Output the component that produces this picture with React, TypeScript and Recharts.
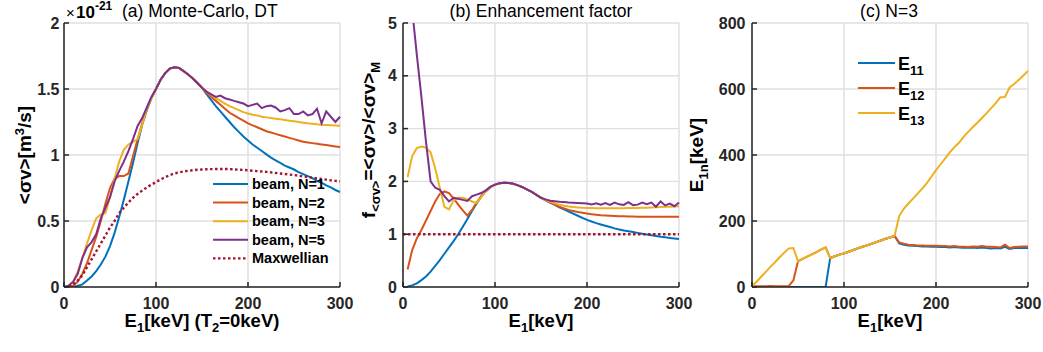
import React from "react";
import { LineChart, Line, XAxis, YAxis, CartesianGrid, Legend } from "recharts";

// beam energy grid E1 [keV], shared by all three panels
const energy = [
  0, 5, 10, 15, 20, 25, 30, 35, 40, 45, 50, 55, 60, 65, 70, 75, 80, 85, 90, 95,
  100, 105, 110, 115, 120, 125, 130, 135, 140, 145, 150,
  155, 160, 165, 170, 175, 180, 185, 190, 195, 200, 205, 210, 215, 220, 225, 230,
  235, 240, 245, 250, 255, 260, 265, 270, 275, 280, 285, 290, 295, 300,
];

// (a) <sigma v> in units of 1e-21 m^3/s
const sigmaN1 = [
  0, 0, 0, 0.01, 0.02, 0.05, 0.08, 0.12, 0.17, 0.23, 0.31, 0.41, 0.53, 0.66, 0.8, 0.94, 1.09, 1.23, 1.34, 1.43,
  1.5, 1.57, 1.62, 1.655, 1.665, 1.66, 1.635, 1.61, 1.58, 1.545, 1.51,
  1.46, 1.415, 1.37, 1.33, 1.29, 1.25, 1.21, 1.175, 1.14, 1.11, 1.08, 1.055, 1.03, 1.005, 0.98,
  0.96, 0.94, 0.92, 0.905, 0.89, 0.87, 0.855, 0.84, 0.825, 0.805, 0.79, 0.77, 0.755, 0.735, 0.72,
];
const sigmaN2 = [
  0, 0, 0.01, 0.04, 0.1, 0.18, 0.28, 0.38, 0.5, 0.63, 0.75, 0.82, 0.84, 0.84, 0.86, 0.99, 1.12, 1.24, 1.35, 1.43,
  1.5, 1.57, 1.62, 1.655, 1.665, 1.66, 1.635, 1.61, 1.58, 1.545, 1.51,
  1.47, 1.44, 1.41, 1.38, 1.35, 1.32, 1.3, 1.28, 1.26, 1.24, 1.225, 1.21, 1.195, 1.18, 1.17,
  1.16, 1.15, 1.14, 1.13, 1.12, 1.11, 1.1, 1.095, 1.09, 1.085, 1.08, 1.075, 1.07, 1.065, 1.06,
];
const sigmaN3 = [
  0, 0.01, 0.04, 0.12, 0.22, 0.33, 0.43, 0.52, 0.55, 0.56, 0.68, 0.82, 0.95, 1.04, 1.08, 1.1, 1.12, 1.23, 1.35, 1.43,
  1.5, 1.57, 1.62, 1.655, 1.665, 1.66, 1.635, 1.61, 1.58, 1.545, 1.51,
  1.48, 1.455, 1.43, 1.41, 1.39, 1.37, 1.355, 1.34, 1.325, 1.315, 1.305, 1.3, 1.29, 1.285, 1.28,
  1.275, 1.27, 1.265, 1.26, 1.255, 1.25, 1.245, 1.24, 1.237, 1.233, 1.23, 1.228, 1.226, 1.224, 1.222,
];
const sigmaN5 = [
  0, 0.01, 0.04, 0.1, 0.22, 0.3, 0.34, 0.4, 0.52, 0.6, 0.68, 0.8, 0.88, 0.95, 1.03, 1.12, 1.22, 1.28, 1.36, 1.44,
  1.5, 1.57, 1.62, 1.655, 1.665, 1.66, 1.635, 1.61, 1.58, 1.545, 1.51,
  1.48, 1.46, 1.44, 1.45, 1.43, 1.42, 1.41, 1.4, 1.39, 1.37, 1.38, 1.39, 1.355, 1.37, 1.375,
  1.36, 1.33, 1.34, 1.355, 1.31, 1.31, 1.33, 1.3, 1.31, 1.35, 1.24, 1.33, 1.29, 1.25, 1.29,
];
const sigmaMaxw = [
  0, 0, 0.02, 0.05, 0.09, 0.15, 0.21, 0.27, 0.33, 0.39, 0.45, 0.5, 0.56, 0.6, 0.64, 0.675, 0.705, 0.73, 0.755, 0.775,
  0.795, 0.815, 0.832, 0.848, 0.86, 0.868, 0.875, 0.88, 0.885, 0.888, 0.89,
  0.892, 0.893, 0.894, 0.894, 0.894, 0.893, 0.891, 0.889, 0.887, 0.884, 0.881, 0.878, 0.875, 0.872, 0.868,
  0.864, 0.86, 0.856, 0.852, 0.848, 0.843, 0.838, 0.833, 0.828, 0.823, 0.818, 0.813, 0.808, 0.804, 0.8,
];

// (b) enhancement factor <sigma v>/<sigma v>_M
const enhN1 = [
  null, 0.01, 0.03, 0.07, 0.13, 0.2, 0.29, 0.4, 0.51, 0.63, 0.75, 0.87, 1.0, 1.14, 1.29, 1.44, 1.58, 1.71, 1.81, 1.89,
  1.94, 1.965, 1.975, 1.97, 1.955, 1.925, 1.89, 1.845, 1.8, 1.745, 1.69,
  1.64, 1.6, 1.555, 1.51, 1.47, 1.43, 1.39, 1.35, 1.31, 1.27, 1.24, 1.21, 1.185, 1.16, 1.135,
  1.11, 1.09, 1.07, 1.055, 1.04, 1.025, 1.01, 0.995, 0.98, 0.965, 0.95, 0.94, 0.93, 0.92, 0.91,
];
const enhN2 = [
  null, 0.33, 0.7, 0.92, 1.08, 1.26, 1.44, 1.62, 1.76, 1.81, 1.78, 1.68, 1.56, 1.45, 1.35, 1.46, 1.6, 1.72, 1.82, 1.89,
  1.94, 1.965, 1.975, 1.97, 1.955, 1.925, 1.89, 1.845, 1.8, 1.745, 1.69,
  1.645, 1.6, 1.56, 1.52, 1.49, 1.46, 1.44, 1.42, 1.405, 1.39, 1.38, 1.37, 1.36, 1.355, 1.35,
  1.345, 1.34, 1.338, 1.335, 1.333, 1.332, 1.33, 1.33, 1.33, 1.33, 1.33, 1.33, 1.33, 1.33, 1.33,
];
const enhN3 = [
  null, 2.08, 2.48, 2.63, 2.66, 2.64, 2.55, 2.25, 1.88, 1.52, 1.47, 1.64, 1.69, 1.69, 1.66, 1.62, 1.59, 1.7, 1.82, 1.89,
  1.94, 1.965, 1.975, 1.97, 1.955, 1.925, 1.89, 1.845, 1.8, 1.745, 1.69,
  1.65, 1.615, 1.585, 1.56, 1.54, 1.525, 1.515, 1.507, 1.5, 1.497, 1.494, 1.492, 1.49, 1.49, 1.49,
  1.49, 1.49, 1.492, 1.494, 1.496, 1.498, 1.5, 1.503, 1.506, 1.51, 1.514, 1.518, 1.522, 1.526, 1.53,
];
const enhN5 = [
  null, 6.0, 5.25, 4.4, 3.6, 2.75, 2.0, 1.88, 1.84, 1.72, 1.62, 1.69, 1.67, 1.65, 1.63, 1.72, 1.75, 1.78, 1.83, 1.9,
  1.94, 1.965, 1.975, 1.97, 1.955, 1.925, 1.89, 1.845, 1.8, 1.745, 1.69,
  1.66, 1.635, 1.625, 1.615, 1.61, 1.6, 1.595, 1.59, 1.585, 1.58, 1.565, 1.585, 1.56, 1.59, 1.555,
  1.6, 1.565, 1.555, 1.605, 1.55, 1.56, 1.6, 1.57, 1.6, 1.52, 1.62, 1.545, 1.58, 1.53, 1.6,
];
const enhMaxw = [
  1, 1, 1, 1, 1, 1, 1, 1, 1, 1, 1, 1, 1, 1, 1, 1, 1, 1, 1, 1,
  1, 1, 1, 1, 1, 1, 1, 1, 1, 1, 1,
  1, 1, 1, 1, 1, 1, 1, 1, 1, 1, 1, 1, 1, 1, 1,
  1, 1, 1, 1, 1, 1, 1, 1, 1, 1, 1, 1, 1, 1, 1,
];

// (c) N=3 energies E_1n [keV]
const e11 = [
  0, 0, 0, 0, 0, 0, 0, 0, 0, 0, 0, 0, 0, 0, 0, 0, 0,
  88, 93, 98, 102, 107, 112, 117, 122, 126, 131, 136, 141, 146, 150, 155,
  132, 128, 126, 125, 124, 123, 123, 122, 122, 121, 121, 120, 121, 120,
  119, 119, 120, 118, 120, 118, 117, 118, 117, 122, 115, 118, 118, 118, 118,
];
const e12 = [
  2, 2, 2, 2, 3, 2, 2, 2, 3, 20, 78, 85, 92, 99, 106, 113, 120,
  88, 93, 98, 102, 107, 112, 117, 122, 126, 131, 136, 141, 146, 150, 155,
  135, 131, 128, 127, 126, 126, 125, 125, 125, 124, 124, 123, 124, 122,
  122, 121, 123, 122, 124, 122, 122, 121, 120, 128, 118, 121, 122, 123, 123,
];
const e13 = [
  2, 16, 31, 46, 61, 75, 90, 104, 117, 118, 78, 85, 92, 99, 106, 113, 120,
  88, 93, 98, 102, 107, 112, 117, 122, 126, 131, 136, 141, 146, 150, 155,
  215, 237, 253, 268, 283, 298, 315, 334, 354, 372, 390, 408, 424, 437,
  455, 470, 485, 498, 512, 527, 542, 557, 575, 576, 605, 615, 628, 641, 655,
];

const xTicks = [0, 100, 200, 300];
const sigmaTicks = [0, 0.5, 1, 1.5, 2];
const enhTicks = [0, 1, 2, 3, 4, 5];
const e1nTicks = [0, 200, 400, 600, 800];

const W = 1043;
const H = 352;
const PLOT_TOP = 23;
const PLOT_BOTTOM = 287;
const FONT = "'Liberation Sans', Arial, Helvetica, sans-serif";
const INK = "#262626";

const BLUE = "#0072BD";
const RED = "#D95319";
const YELLOW = "#EDB120";
const PURPLE = "#7E2F8E";
const MAXW = "#A2142F";

const tickStyle = { fontFamily: FONT, fontSize: 16, fontWeight: 700, fill: INK };

const rowsA = energy.map((E, i) => ({
  E, n1: sigmaN1[i], n2: sigmaN2[i], n3: sigmaN3[i], n5: sigmaN5[i], mx: sigmaMaxw[i],
}));
const rowsB = energy.map((E, i) => ({
  E, n1: enhN1[i], n2: enhN2[i], n3: enhN3[i], n5: enhN5[i], mx: enhMaxw[i],
}));
const rowsC = energy.map((E, i) => ({ E, e11: e11[i], e12: e12[i], e13: e13[i] }));

type Series = { key: string; name: string; color: string; dash?: string; width?: number };

const seriesA: Series[] = [
  { key: "n1", name: "beam, N=1", color: BLUE },
  { key: "n2", name: "beam, N=2", color: RED },
  { key: "n3", name: "beam, N=3", color: YELLOW },
  { key: "n5", name: "beam, N=5", color: PURPLE },
  { key: "mx", name: "Maxwellian", color: MAXW, dash: "2.5 2.5", width: 2.4 },
];
const seriesC: Series[] = [
  { key: "e11", name: "11", color: BLUE },
  { key: "e12", name: "12", color: RED },
  { key: "e13", name: "13", color: YELLOW },
];

function LegendA() {
  return (
    <svg width={140} height={95} style={{ overflow: "visible" }}>
      {seriesA.map((s, i) => {
        const y = 10 + i * 18.6;
        return (
          <g key={s.key}>
            <line x1={3} x2={38} y1={y} y2={y} stroke={s.color} strokeWidth={s.width ?? 2} strokeDasharray={s.dash} />
            <text x={42} y={y + 5} fontFamily={FONT} fontSize={14.5} fontWeight={700} fill="#000">{s.name}</text>
          </g>
        );
      })}
    </svg>
  );
}

function LegendC() {
  return (
    <svg width={90} height={75} style={{ overflow: "visible" }}>
      {seriesC.map((s, i) => {
        const y = 10 + i * 25;
        return (
          <g key={s.key}>
            <line x1={3} x2={40} y1={y} y2={y} stroke={s.color} strokeWidth={2} />
            <text x={43} y={y + 6.5} fontFamily={FONT} fontSize={18} fontWeight={700} fill="#000">
              E<tspan dy={5} fontSize={13}>{s.name}</tspan>
            </text>
          </g>
        );
      })}
    </svg>
  );
}

type PanelProps = {
  rows: any[];
  series: Series[];
  yDomain: [number, number];
  yTicks: number[];
  left: number;
  right: number;
  labelGap: number;
  legend?: React.ReactNode;
};

function Panel({ rows, series, yDomain, yTicks, left, right, labelGap, legend }: PanelProps) {
  return (
    <div style={{ position: "absolute", left: 0, top: 0 }}>
      <LineChart
        width={W}
        height={H}
        data={rows}
        margin={{ top: PLOT_TOP, right: W - right, bottom: H - PLOT_BOTTOM - 30, left: left - 60 }}
      >
        <CartesianGrid stroke="#dfdfdf" strokeWidth={1.4} />
        <XAxis
          dataKey="E"
          type="number"
          domain={[0, 300]}
          ticks={xTicks}
          interval={0}
          height={30}
          tickSize={-5}
          tickMargin={15.5}
          stroke={INK}
          strokeWidth={1.5}
          tick={tickStyle}
        />
        <XAxis
          xAxisId="top"
          orientation="top"
          type="number"
          domain={[0, 300]}
          ticks={xTicks}
          height={0}
          tickSize={-5}
          tick={false}
          stroke={INK}
          strokeWidth={1.5}
        />
        <YAxis
          type="number"
          domain={yDomain}
          ticks={yTicks}
          interval={0}
          allowDataOverflow
          width={60}
          tickSize={-5}
          tickMargin={5 + labelGap}
          stroke={INK}
          strokeWidth={1.5}
          tick={tickStyle}
        />
        <YAxis
          yAxisId="right"
          orientation="right"
          type="number"
          domain={yDomain}
          ticks={yTicks}
          allowDataOverflow
          width={0}
          tickSize={-5}
          tick={false}
          stroke={INK}
          strokeWidth={1.5}
        />
        {series.map((s) => (
          <Line
            key={s.key}
            type="linear"
            dataKey={s.key}
            name={s.name}
            stroke={s.color}
            strokeWidth={s.width ?? 2}
            strokeDasharray={s.dash}
            dot={false}
            activeDot={false}
            isAnimationActive={false}
          />
        ))}
        {legend}
      </LineChart>
    </div>
  );
}

function Labels() {
  const bold = { fontFamily: FONT, fontWeight: 700, fill: "#000" } as const;
  const plain = { fontFamily: FONT, fontWeight: 400, fill: "#000" } as const;
  return (
    <svg width={W} height={H} style={{ position: "absolute", left: 0, top: 0, pointerEvents: "none" }}>
      {/* titles */}
      <text x={66} y={18} fontSize={15} {...plain}>×</text>
      <text x={76} y={18} fontSize={17} {...bold}>
        10<tspan dy={-8} fontSize={12}>-21</tspan>
      </text>
      <text x={122} y={17} fontSize={17.5} {...plain}>(a) Monte-Carlo, DT</text>
      <text x={541} y={17} fontSize={17.5} textAnchor="middle" {...plain}>(b) Enhancement factor</text>
      <text x={889} y={17} fontSize={17.5} textAnchor="middle" {...plain}>(c) N=3</text>

      {/* x labels */}
      <text x={202} y={327} fontSize={18.5} textAnchor="middle" {...bold}>
        E<tspan dy={5} fontSize={13}>1</tspan>
        <tspan dy={-5}>[keV] (T</tspan>
        <tspan dy={5} fontSize={13}>2</tspan>
        <tspan dy={-5}>=0keV)</tspan>
      </text>
      <text x={541} y={327} fontSize={18.5} textAnchor="middle" {...bold}>
        E<tspan dy={5} fontSize={13}>1</tspan>
        <tspan dy={-5}>[keV]</tspan>
      </text>
      <text x={890} y={327} fontSize={18.5} textAnchor="middle" {...bold}>
        E<tspan dy={5} fontSize={13}>1</tspan>
        <tspan dy={-5}>[keV]</tspan>
      </text>

      {/* y labels */}
      <text transform="translate(31,155) rotate(-90)" fontSize={19} textAnchor="middle" {...bold}>
        {"<σv>[m"}
        <tspan dy={-7} fontSize={13}>3</tspan>
        <tspan dy={7}>{"/s]"}</tspan>
      </text>
      <text transform="translate(375,140) rotate(-90)" fontSize={19} textAnchor="middle" {...bold}>
        f<tspan dy={5} fontSize={13}>{"<σv>"}</tspan>
        <tspan dy={-5}>{"=<σv>/<σv>"}</tspan>
        <tspan dy={5} fontSize={13}>M</tspan>
      </text>
      <text transform="translate(703,155) rotate(-90)" fontSize={19} textAnchor="middle" {...bold}>
        E<tspan dy={5} fontSize={13}>1n</tspan>
        <tspan dy={-5}>[keV]</tspan>
      </text>
    </svg>
  );
}

export default function App() {
  return (
    <div style={{ position: "absolute", left: 0, top: 0, width: W, height: H, background: "#fff", overflow: "hidden" }}>
      <Panel
        rows={rowsA}
        series={seriesA}
        yDomain={[0, 2]}
        yTicks={sigmaTicks}
        left={64}
        right={340}
        labelGap={4.5}
        legend={
          <Legend
            layout="horizontal"
            verticalAlign="middle"
            align="center"
            wrapperStyle={{ left: 210, top: 174, width: 140, height: 95 }}
            content={() => <LegendA />}
          />
        }
      />
      <Panel
        rows={rowsB}
        series={seriesA}
        yDomain={[0, 5]}
        yTicks={enhTicks}
        left={403}
        right={679}
        labelGap={6}
      />
      <Panel
        rows={rowsC}
        series={seriesC}
        yDomain={[0, 800]}
        yTicks={e1nTicks}
        left={752}
        right={1028}
        labelGap={6.5}
        legend={
          <Legend
            layout="horizontal"
            verticalAlign="middle"
            align="center"
            wrapperStyle={{ left: 855, top: 53, width: 90, height: 75 }}
            content={() => <LegendC />}
          />
        }
      />
      <Labels />
    </div>
  );
}
